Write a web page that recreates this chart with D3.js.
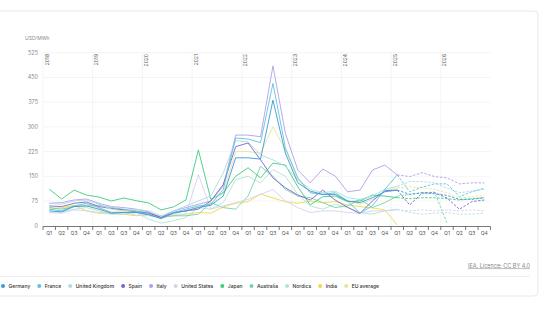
<!DOCTYPE html>
<html>
<head>
<meta charset="utf-8">
<script src="https://cdn.jsdelivr.net/npm/d3@7"></script>
<style>
  body { margin: 0; background: #fff; }
  svg { display: block; font-family: Inter, "Open Sans", sans-serif; }
</style>
</head>
<body>
<div id="chart"></div>
<script>
const years = ["2018", "2019", "2020", "2021", "2022", "2023", "2024", "2025", "2026"];
const quarters = ["Q1", "Q2", "Q3", "Q4"];
const yTicks = [0, 75, 150, 225, 300, 375, 450, 525];
const forwardStart = 28; // 2025 Q1, dashed after this

// USD/MWh per quarter, 2018 Q1 .. 2026 Q4
const germany = [45,42,58,60, 50,38,40,40, 33,22,38,45, 55,62,90,206, 206,202,381,220, 130,105,95,95, 75,70,85,103, 108, 95,100,97, 92,80,80,85];
const france = [50,45,60,68, 55,40,40,42, 35,22,40,50, 60,65,110,266, 263,252,432,236, 145,100,95,100, 75,38,60,110, 154, 103,117,127, 127,88,103,114];
const unitedKingdom = [68,65,75,78, 65,50,45,50, 45,30,45,60, 75,90,160,258, 254,215,200,180, 140,110,100,105, 85,80,90,110, 120, 134,134,130, 114,100,105,110];
const spain = [60,58,68,72, 58,52,48,42, 38,25,40,45, 50,75,125,240, 251,200,145,115, 93,78,108,78, 56,37,75,106, 108, 63,99,100, 84,50,73,78];
const italy = [68,70,78,81, 68,58,55,50, 42,25,45,55, 65,75,120,275, 275,270,485,280, 169,130,172,151, 103,108,169,184, 154, 149,161,149, 145,127,130,130];
const unitedStates = [40,38,48,45, 38,35,40,32, 30,25,35,35, 155,50,60,70, 80,95,110,75, 55,40,45,45, 40,38,45,45, 48, 45,48,45, 48,45,48,45];
const japan = [111,81,108,93, 87,75,84,76, 69,48,57,78, 230,80,100,150, 176,145,190,184, 118,63,88,90, 73,75,93,90, 85, 82,85,85, 82,78,82,85];
const australia = [55,50,58,60, 62,55,50,45, 40,25,30,30, 35,70,55,50, 90,180,150,110, 90,85,70,55, 60,80,55,70, 90, 95,100,102, 8,null,null,null];
const nordics = [40,42,50,55, 45,35,35,40, 20,8,15,25, 55,50,70,140, 150,130,170,150, 95,60,50,65, 55,40,35,45, 50, 40,35,38, 40,35,35,38];
const india = [50,55,62,45, 40,38,35,30, 35,30,30,35, 40,38,57,68, 73,96,84,73, 68,75,70,73, 63,58,54,48, 2, null,null,null, null,null,null,null];
const euAverage = [55,52,60,65, 52,42,42,45, 35,22,40,45, 58,65,100,225, 225,220,300,230, 140,100,95,95, 75,65,80,105, 115, 118,115,110, 100,84,88,92];

const series = [
  { name: "Germany", values: germany, color: "#3a9ad9" },
  { name: "France", values: france, color: "#5ec3e0" },
  { name: "United Kingdom", values: unitedKingdom, color: "#a9dbe6" },
  { name: "Spain", values: spain, color: "#7e63cf" },
  { name: "Italy", values: italy, color: "#b39ee9" },
  { name: "United States", values: unitedStates, color: "#d6d0f0" },
  { name: "Japan", values: japan, color: "#3fcb7d" },
  { name: "Australia", values: australia, color: "#74d3ac" },
  { name: "Nordics", values: nordics, color: "#b2e3d3" },
  { name: "India", values: india, color: "#ecd94c" },
  { name: "EU average", values: euAverage, color: "#e4e59a" }
];

const width = 549, height = 309;
const svg = d3.select("#chart").append("svg")
  .attr("width", width).attr("height", height);

// card
svg.append("rect")
  .attr("x", -4).attr("y", 11).attr("width", 542).attr("height", 285)
  .attr("rx", 4).attr("fill", "#fff").attr("stroke", "#e8e8e8");

const periods = [];
years.forEach(y => quarters.forEach(q => periods.push(y + " " + q)));

const x = d3.scaleBand().domain(periods).range([43, 490.5]);
const y = d3.scaleLinear().domain([0, 525]).range([225.7, 52.7]);

// horizontal grid + y labels
svg.append("g").selectAll("line").data(yTicks.slice(1)).join("line")
  .attr("x1", 43).attr("x2", 490.5)
  .attr("y1", d => y(d)).attr("y2", d => y(d))
  .attr("stroke", "#efefef").attr("stroke-width", 0.7);

svg.append("g").selectAll("text").data(yTicks).join("text")
  .attr("x", 38).attr("y", d => y(d) + 2)
  .attr("text-anchor", "end").attr("font-size", 5.5).attr("fill", "#8a8a8a")
  .text(d => d);

svg.append("text").attr("x", 25).attr("y", 40)
  .attr("font-size", 5).attr("fill", "#8a8a8a").text("USD/MWh");

// vertical year grid + rotated year labels
svg.append("g").selectAll("line").data(years).join("line")
  .attr("x1", d => x(d + " Q1")).attr("x2", d => x(d + " Q1"))
  .attr("y1", 52.7).attr("y2", 225.7)
  .attr("stroke", "#efefef").attr("stroke-width", 0.7);

svg.append("g").selectAll("text").data(years).join("text")
  .attr("transform", d => `translate(${x(d + " Q1") + 5.5},54) rotate(-90)`)
  .attr("text-anchor", "end").attr("font-size", 5).attr("fill", "#555")
  .text(d => d);

// x axis
const xAxis = svg.append("g");
xAxis.append("line").attr("x1", 43).attr("x2", 490.5)
  .attr("y1", 226.5).attr("y2", 226.5).attr("stroke", "#555").attr("stroke-width", 0.8);
xAxis.selectAll("line.tick").data(periods.concat(["end"])).join("line")
  .attr("class", "tick")
  .attr("x1", (d, i) => 43 + i * x.bandwidth()).attr("x2", (d, i) => 43 + i * x.bandwidth())
  .attr("y1", 226.5).attr("y2", 230).attr("stroke", "#555").attr("stroke-width", 0.8);
xAxis.selectAll("text").data(periods).join("text")
  .attr("x", d => x(d) + x.bandwidth() / 2).attr("y", 234.5)
  .attr("text-anchor", "middle").attr("font-size", 5).attr("fill", "#555")
  .text(d => d.split(" ")[1]);

// lines
const cx = i => x(periods[i]) + x.bandwidth() / 2;
const line = d3.line()
  .defined(d => d.v != null)
  .x(d => cx(d.i)).y(d => y(d.v));

const lines = svg.append("g").attr("fill", "none");
series.slice().reverse().forEach(s => {
  const pts = s.values.map((v, i) => ({ v, i }));
  lines.append("path")
    .attr("d", line(pts.slice(0, forwardStart + 1)))
    .attr("stroke", s.color).attr("stroke-width", 0.9);
  lines.append("path")
    .attr("d", line(pts.slice(forwardStart)))
    .attr("stroke", s.color).attr("stroke-width", 0.9)
    .attr("stroke-dasharray", "2.5,1.5");
});

// source
svg.append("text").attr("x", 530).attr("y", 267.5)
  .attr("text-anchor", "end").attr("font-size", 5.5).attr("fill", "#888")
  .attr("text-decoration", "underline")
  .text("IEA. Licence: CC BY 4.0");

svg.append("line").attr("x1", 0).attr("x2", 530)
  .attr("y1", 276.5).attr("y2", 276.5).attr("stroke", "#eeeeee");

// legend
const legend = svg.append("g");
let lx = 3;
series.forEach(s => {
  legend.append("circle").attr("cx", lx).attr("cy", 286)
    .attr("r", 2).attr("fill", s.color);
  const t = legend.append("text").attr("x", lx + 5.5).attr("y", 288)
    .attr("font-size", 5).attr("font-weight", 500).attr("fill", "#333")
    .text(s.name);
  lx += 5.5 + t.node().getComputedTextLength() + 9;
});
</script>
</body>
</html>
